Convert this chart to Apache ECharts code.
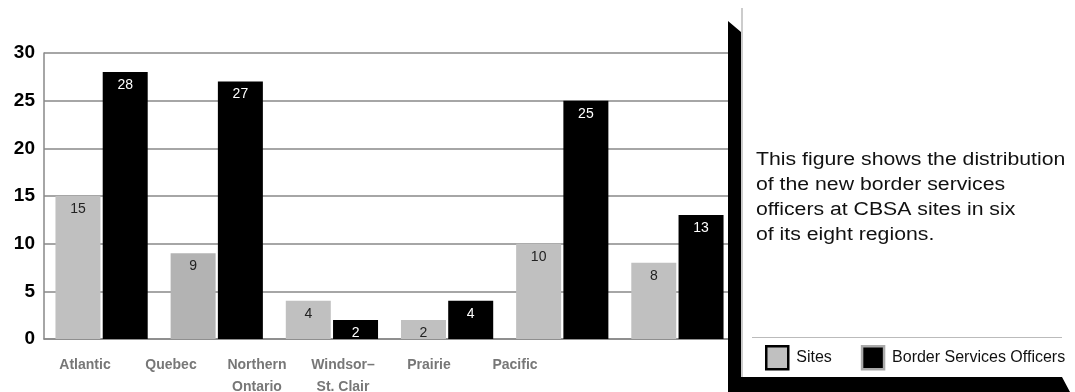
<!DOCTYPE html>
<html>
<head>
<meta charset="utf-8">
<style>
  html, body { margin: 0; padding: 0; background: #fff; }
  #chart { width: 1075px; height: 392px; }
</style>
<script src="https://cdn.jsdelivr.net/npm/echarts@6/dist/echarts.min.js"></script>
</head>
<body>
<div id="chart"></div>
<script>
// Regions and counts of new border services officers
const regions = ['Atlantic', 'Quebec', 'Northern\nOntario', 'Windsor–\nSt. Clair', 'Prairie', 'Pacific'];
const sites = [15, 9, 4, 2, 10, 8];
const officers = [28, 27, 2, 4, 25, 13];
const yTicks = { min: 0, max: 30, interval: 5 };
const captionLines = [
  'This figure shows the distribution',
  'of the new border services',
  'officers at CBSA sites in six',
  'of its eight regions.'
];

const FONT = '"Liberation Sans", Arial, sans-serif';
const siteColors = ['#c0c0c0', '#b3b3b3', '#c0c0c0', '#c0c0c0', '#c0c0c0', '#c0c0c0'];

const chart = echarts.init(document.getElementById('chart'), null, { renderer: 'canvas' });

chart.setOption({
  animation: false,
  backgroundColor: '#fff',
  textStyle: { fontFamily: FONT },
  grid: [
    { left: 44, top: 53, width: 691, height: 286, outerBoundsMode: 'none' },
    // label strip for the region names
    { left: 42, top: 53, width: 516, height: 286, outerBoundsMode: 'none' }
  ],
  xAxis: [
    {
      type: 'category', gridIndex: 0, data: regions,
      axisLine: { show: true, lineStyle: { color: '#888', width: 1.5 } },
      axisTick: { show: false },
      axisLabel: { show: false }
    },
    {
      type: 'category', gridIndex: 1, data: regions,
      axisLine: { show: false }, axisTick: { show: false },
      axisLabel: {
        show: true, interval: 0, margin: 15,
        color: '#777', fontWeight: 'bold', fontSize: 14, lineHeight: 22, fontFamily: FONT
      }
    }
  ],
  yAxis: [
    {
      type: 'value', gridIndex: 0, min: yTicks.min, max: yTicks.max, interval: yTicks.interval,
      axisLine: { show: true, lineStyle: { color: '#888', width: 1.5 } },
      axisTick: { show: false },
      splitLine: { show: true, lineStyle: { color: '#888', width: 1.5 } },
      axisLabel: { color: '#000', fontWeight: 'bold', fontSize: 19, margin: 9, fontFamily: FONT }
    },
    { type: 'value', gridIndex: 1, show: false, min: 0, max: 1 }
  ],
  legend: {
    z: 60,
    left: 760, top: 340,
    orient: 'horizontal',
    selectedMode: false,
    icon: 'rect',
    itemWidth: 22, itemHeight: 23,
    itemGap: 29,
    textStyle: { color: '#111', fontSize: 16, fontFamily: FONT, padding: [0, 0, 0, 3] },
    data: [
      { name: 'Sites', itemStyle: { color: '#c0c0c0', borderColor: '#000', borderWidth: 2.5 } },
      { name: 'Border Services Officers', itemStyle: { color: '#000', borderColor: '#aaa', borderWidth: 2.5 } }
    ]
  },
  series: [
    {
      name: 'Sites', type: 'bar', xAxisIndex: 0, yAxisIndex: 0,
      barWidth: 45, barGap: '5%',
      data: sites.map((v, i) => ({ value: v, itemStyle: { color: siteColors[i] } })),
      itemStyle: { color: '#c0c0c0' },
      label: { show: true, position: 'insideTop', distance: 6, color: '#222', fontSize: 14, fontFamily: FONT }
    },
    {
      name: 'Border Services Officers', type: 'bar', xAxisIndex: 0, yAxisIndex: 0,
      barWidth: 45,
      data: officers,
      itemStyle: { color: '#000' },
      label: { show: true, position: 'insideTop', distance: 6, color: '#fff', fontSize: 14, fontFamily: FONT }
    }
  ],
  graphic: [
    // white caption panel with its dark drop shadow
    { type: 'rect', z: 50, shape: { x: 741, y: 0, width: 334, height: 377 }, style: { fill: '#fff' } },
    { type: 'polygon', z: 51, shape: { points: [[728, 21], [741, 32], [741, 377], [1062, 377], [1070, 392], [728, 392]] }, style: { fill: '#000' } },
    { type: 'line', z: 52, shape: { x1: 742, y1: 8, x2: 742, y2: 377 }, style: { stroke: '#999', lineWidth: 1 } },
    { type: 'line', z: 52, shape: { x1: 752, y1: 337.5, x2: 1062, y2: 337.5 }, style: { stroke: '#bbb', lineWidth: 1 } },
    {
      type: 'text', z: 53, x: 756, y: 148, scaleX: 1.18,
      style: { text: captionLines.join('\n'), fill: '#111', font: '18px ' + FONT, lineHeight: 25 }
    }
  ]
});
</script>
</body>
</html>
